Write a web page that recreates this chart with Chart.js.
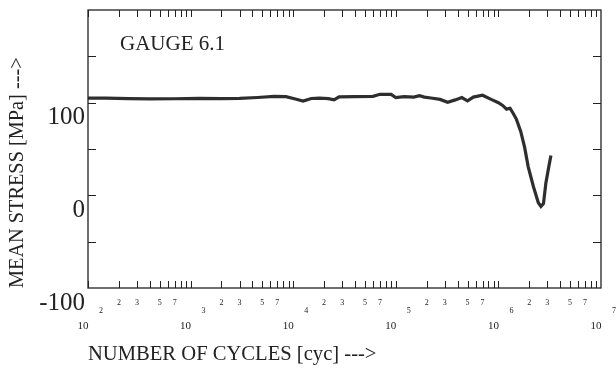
<!DOCTYPE html>
<html>
<head>
<meta charset="utf-8">
<script src="https://cdn.jsdelivr.net/npm/chart.js@4"></script>
<style>
  html, body { margin: 0; padding: 0; background: #fff; }
  canvas { display: block; }
</style>
</head>
<body>
<canvas id="chart" width="616" height="368"></canvas>
<script>
// measured curve (cycles -> mean stress in MPa)
const cycles = [100, 150, 250, 400, 700, 1200, 2000, 3000, 4500, 6500, 8500, 10500, 12500, 15000,
  18000, 22000, 25000, 28000, 40000, 60000, 70000, 90000, 100000, 120000, 150000, 170000, 190000,
  220000, 270000, 320000, 380000, 440000, 500000, 570000, 700000, 850000, 1000000, 1100000,
  1200000, 1300000, 1400000, 1500000, 1650000, 1800000, 1950000, 2200000, 2450000, 2600000,
  2750000, 2900000, 3100000, 3250000];
const meanStress = [105, 104.8, 104.3, 104, 104.2, 104.6, 104.4, 104.6, 105.6, 106.8, 106.5, 104, 101.8, 104.5,
  105, 104.4, 103, 106.3, 106.5, 106.8, 109, 109, 105.5, 106.5, 106, 107.5, 106,
  105, 103.5, 100.5, 103, 105.5, 102, 106, 108, 103.5, 100, 97,
  93, 94, 88, 82, 69, 52, 31, 9, -8, -12,
  -9, 13, 31, 43];

// axis ticks
const decades = [2, 3, 4, 5, 6, 7];
const tickMultipliers = [1, 2, 3, 4, 5, 6, 7, 8, 9];
const labelMultipliers = [2, 3, 5, 7];
const yTicks = [-50, 0, 50, 100, 150];
const yLabels = [-100, 0, 100];

const ink = '#222';
const serif = '"Liberation Serif", "DejaVu Serif", serif';

// frame, inward ticks and the split x labels
const framePlugin = {
  id: 'frame',
  afterDraw(chart) {
    const { ctx, chartArea: a, scales: { x, y } } = chart;
    ctx.save();
    ctx.strokeStyle = ink;
    ctx.lineWidth = 1.3;
    ctx.strokeRect(a.left, a.top, a.right - a.left, a.bottom - a.top);

    ctx.lineWidth = 1;
    ctx.beginPath();
    decades.slice(0, -1).forEach(e => {
      tickMultipliers.forEach(m => {
        const px = Math.round(x.getPixelForValue(m * Math.pow(10, e))) + 0.5;
        ctx.moveTo(px, a.bottom); ctx.lineTo(px, a.bottom - 7);
        ctx.moveTo(px, a.top); ctx.lineTo(px, a.top + 7);
      });
    });
    yTicks.forEach(v => {
      const py = Math.round(y.getPixelForValue(v)) + 0.5;
      ctx.moveTo(a.left, py); ctx.lineTo(a.left + 8, py);
      ctx.moveTo(a.right, py); ctx.lineTo(a.right - 8, py);
    });
    ctx.stroke();

    ctx.fillStyle = ink;
    ctx.textAlign = 'center';
    ctx.textBaseline = 'middle';
    ctx.font = '8px ' + serif;
    decades.slice(0, -1).forEach(e => {
      labelMultipliers.forEach(m => {
        ctx.fillText(String(m), x.getPixelForValue(m * Math.pow(10, e)), a.bottom + 15);
      });
    });
    decades.forEach(e => {
      const px = x.getPixelForValue(Math.pow(10, e));
      ctx.font = '8px ' + serif;
      ctx.fillText(String(e), px + 13, a.bottom + 23);
      ctx.font = '11px ' + serif;
      ctx.fillText('10', px - 5, a.bottom + 38);
    });

    ctx.textAlign = 'left';
    ctx.font = '21px ' + serif;
    ctx.fillText('GAUGE 6.1', a.left + 32, a.top + 34);
    ctx.restore();
  }
};

const points = cycles.map((c, i) => ({ x: c, y: meanStress[i] }));

new Chart(document.getElementById('chart'), {
  type: 'line',
  data: {
    datasets: [{
      data: points,
      borderColor: '#2e2e2e',
      borderWidth: 3.2,
      pointRadius: 0,
      tension: 0,
      fill: false
    }]
  },
  options: {
    responsive: false,
    animation: false,
    layout: { padding: { left: 0, right: 15, top: 10, bottom: 0 } },
    plugins: {
      legend: { display: false },
      tooltip: { enabled: false }
    },
    scales: {
      x: {
        type: 'logarithmic',
        min: 100,
        max: 1e7,
        grid: { display: false },
        border: { display: false },
        ticks: { display: false },
        title: {
          display: true,
          text: 'NUMBER OF CYCLES [cyc] --->',
          align: 'start',
          color: ink,
          font: { family: serif, size: 20.6 },
          padding: { top: 0, bottom: 1 }
        },
        afterFit(scale) { scale.height = 80; }
      },
      y: {
        min: -100,
        max: 200,
        grid: { display: false, drawTicks: false },
        border: { display: false },
        ticks: {
          stepSize: 50,
          padding: 3,
          labelOffset: 15,
          color: ink,
          font: { family: serif, size: 25 },
          callback: v => yLabels.includes(v) ? String(v) : ''
        },
        title: {
          display: true,
          text: 'MEAN STRESS [MPa] --->',
          align: 'start',
          color: ink,
          font: { family: serif, size: 20.3 },
          padding: { top: 5, bottom: 0 }
        },
        afterFit(scale) {
          scale.width = 88;
          scale.paddingTop = 0;
          scale.paddingBottom = 0;
        }
      }
    }
  },
  plugins: [framePlugin]
});
</script>
</body>
</html>
